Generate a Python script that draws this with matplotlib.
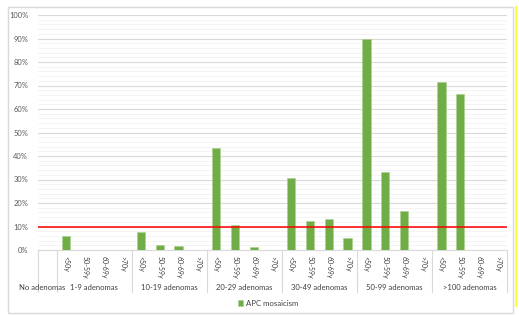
import matplotlib
matplotlib.use("Agg")
import matplotlib.pyplot as plt
import matplotlib.transforms as mtransforms
from matplotlib.patches import Rectangle
from matplotlib.lines import Line2D

plt.rcParams["font.family"] = ["Lato", "DejaVu Sans"]

# ---- data ----
groups = ["1-9 adenomas", "10-19 adenomas", "20-29 adenomas",
          "30-49 adenomas", "50-99 adenomas", ">100 adenomas"]
first_group = "No adenomas"
ages = ["<50y", "50-59y", "60-69y", ">70y"]
vals_1_9 = [6.0, 0, 0, 0]
vals_10_19 = [7.7, 2.3, 1.9, 0]
vals_20_29 = [43.5, 10.5, 1.2, 0]
vals_30_49 = [30.5, 12.2, 13.3, 5.2]
vals_50_99 = [90.0, 33.0, 16.5, 0]
vals_100 = [71.5, 66.5, 0, 0]
no_adenomas_val = [0]
threshold = 10
series_name = "APC mosaicism"
yticks = [0, 10, 20, 30, 40, 50, 60, 70, 80, 90, 100]

group_vals = [vals_1_9, vals_10_19, vals_20_29, vals_30_49, vals_50_99, vals_100]

W, H = 519, 316
fig = plt.figure(figsize=(W / 100, H / 100), dpi=100)
fig.patch.set_facecolor("white")

# chart frame
fig.add_artist(Rectangle((8 / W, 1 - 313 / H), (513 - 8) / W, (313 - 7) / H,
                         transform=fig.transFigure, fill=False,
                         edgecolor="#d9d9d9", lw=1.0))
fig.add_artist(Line2D([515.5 / W, 515.5 / W], [1 - 7 / H, 1 - 306 / H],
                      transform=fig.transFigure, color="#ffff40", lw=1.5))

ax = fig.add_axes([38 / W, 1 - 250 / H, 469 / W, 235 / H])

xs, hs, labels = [0], [no_adenomas_val[0]], [""]
pos = 1
for vals in group_vals:
    for a, v in zip(ages, vals):
        xs.append(pos)
        hs.append(v)
        labels.append(a)
        pos += 1
n = pos

ax.bar(xs, hs, width=0.45, color="#70ad47", edgecolor="#a9d18e",
       linewidth=0.4, label=series_name, zorder=3)
ax.axhline(threshold, color="#ff0000", lw=1.1, zorder=4)

ax.set_xlim(-0.5, n - 0.5)
ax.set_ylim(0, 100)
ax.set_yticks(yticks)
ax.set_yticklabels([f"{t}%" for t in yticks], fontsize=5.4, color="#595959")
ax.set_yticks(range(0, 101, 2), minor=True)
ax.grid(axis="y", which="major", color="#d9d9d9", lw=0.8, zorder=0)
ax.grid(axis="y", which="minor", color="#f0f0f0", lw=0.5, zorder=0)
ax.tick_params(axis="y", which="both", length=0, pad=7)

ax.set_xticks(xs)
ax.set_xticklabels(labels, rotation=270, fontsize=5.0, color="#404040",
                   va="top", ha="center")
ax.tick_params(axis="x", length=0, pad=4)

for s in ["top", "right", "left"]:
    ax.spines[s].set_visible(False)
ax.spines["bottom"].set_color("#d9d9d9")
ax.spines["bottom"].set_linewidth(0.8)

trans = mtransforms.blended_transform_factory(ax.transData, ax.transAxes)
sep_bottom = -42 / 235
bounds = [-0.5, 0.5] + [0.5 + 4 * (i + 1) for i in range(len(groups))]
for b in bounds:
    ax.plot([b, b], [0, sep_bottom], transform=trans, color="#d9d9d9",
            lw=0.8, clip_on=False)

label_y = -38 / 235
ax.text(-0.3, label_y, first_group, transform=trans, ha="center", va="center",
        fontsize=5.5, color="#404040")
for i, g in enumerate(groups):
    c = 1 + 4 * i + 1.5
    ax.text(c, label_y, g, transform=trans, ha="center", va="center",
            fontsize=5.5, color="#404040")

leg = fig.legend(loc="center", bbox_to_anchor=(268 / W, 1 - 303 / H),
                 frameon=False, fontsize=5.6, handlelength=0.7,
                 handleheight=0.7, handletextpad=0.4)
for t in leg.get_texts():
    t.set_color("#404040")

fig.savefig("out.png", dpi=100)
